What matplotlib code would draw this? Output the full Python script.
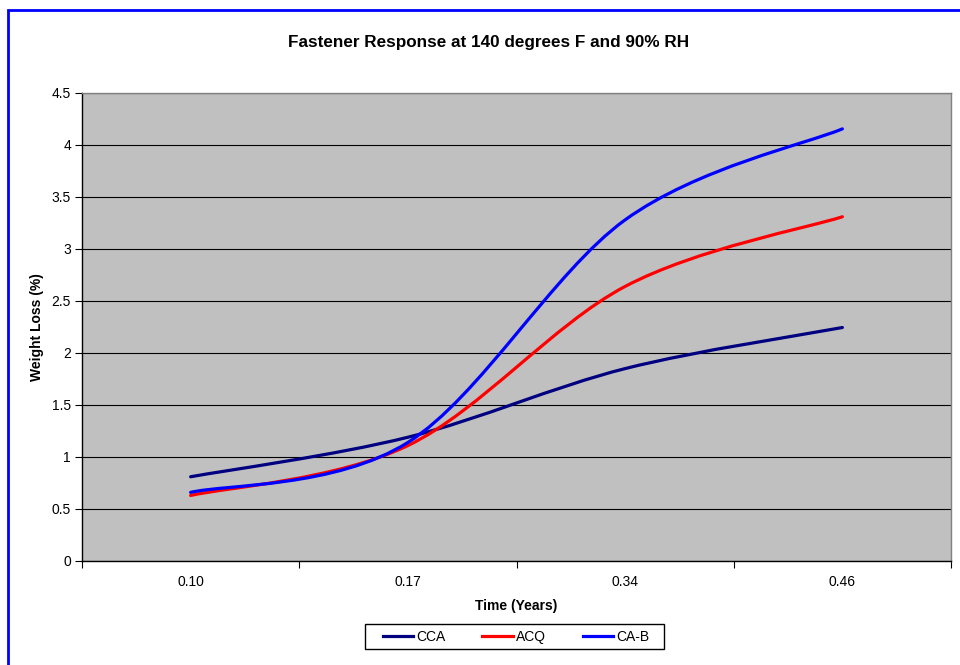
import matplotlib
matplotlib.use("Agg")
import matplotlib.pyplot as plt
from matplotlib.path import Path
from matplotlib.patches import PathPatch, Rectangle
from matplotlib.lines import Line2D
import numpy as np

plt.rcParams['font.family'] = ['Liberation Sans', 'DejaVu Sans']

categories = ["0.10", "0.17", "0.34", "0.46"]
cca = [0.81, 1.19, 1.85, 2.245]
acq = [0.63, 1.11, 2.64, 3.31]
cab = [0.66, 1.14, 3.28, 4.155]
series_names = ["CCA", "ACQ", "CA-B"]
series_colors = ["#000080", "#FF0000", "#0000FF"]
yticks = [0, 0.5, 1, 1.5, 2, 2.5, 3, 3.5, 4, 4.5]

W, H = 960, 665
fig = plt.figure(figsize=(W / 100, H / 100), dpi=100)
fig.patch.set_facecolor("white")

# chart border (blue)
fig.add_artist(Rectangle((7.5 / W, -0.2), 2.0, 1.2 - 9.5 / H, transform=fig.transFigure,
                         fill=False, edgecolor="#0000FF", linewidth=2.0, clip_on=False))

ax = fig.add_axes([82 / W, (H - 561) / H, 869 / W, 468 / H])
ax.set_facecolor("#C0C0C0")


def smooth_path(xs, ys):
    pts = np.column_stack([xs, ys]).astype(float)
    n = len(pts)
    verts = [pts[0]]
    codes = [Path.MOVETO]
    for i in range(n - 1):
        p0 = pts[max(i - 1, 0)]
        p1 = pts[i]
        p2 = pts[i + 1]
        p3 = pts[min(i + 2, n - 1)]
        c1 = p1 + (p2 - p0) / 6.0
        c2 = p2 - (p3 - p1) / 6.0
        verts += [c1, c2, p2]
        codes += [Path.CURVE4] * 3
    return Path(verts, codes)


xs = np.arange(len(categories))
for vals, name, col in zip([cca, acq, cab], series_names, series_colors):
    patch = PathPatch(smooth_path(xs, vals), fill=False, edgecolor=col, linewidth=2.3,
                      capstyle="round", joinstyle="round", zorder=3)
    ax.add_patch(patch)

ax.set_xlim(-0.5, len(categories) - 0.5)
ax.set_ylim(0, 4.5)
ax.set_yticks(yticks)
ax.set_yticklabels([("%g" % v) for v in yticks])
ax.yaxis.grid(True, color="#000000", linewidth=0.8)
ax.set_axisbelow(True)

ax.set_xticks(np.arange(-0.5, len(categories), 1.0))
ax.set_xticklabels([])
ax.set_xticks(xs, minor=True)
ax.set_xticklabels(categories, minor=True)
ax.tick_params(axis="x", which="minor", length=0, pad=10, labelsize=10)
ax.tick_params(axis="x", which="major", length=5, width=0.8, color="black", direction="out")
ax.tick_params(axis="y", length=5, width=0.8, color="black", direction="out", labelsize=10, pad=3)

for s in ["top", "right"]:
    ax.spines[s].set_color("#808080")
    ax.spines[s].set_linewidth(1.0)
for s in ["left", "bottom"]:
    ax.spines[s].set_color("#000000")
    ax.spines[s].set_linewidth(1.0)

fig.text(489 / W, 1 - 43 / H, "Fastener Response at 140 degrees F and 90% RH", ha="center", va="center",
         fontsize=12.3, fontweight="bold")
fig.text(516 / W, 1 - 606 / H, "Time (Years)", ha="center", va="center", fontsize=10, fontweight="bold")
fig.text(37 / W, 1 - 327 / H, "Weight Loss (%)", ha="center", va="center", rotation=90,
         fontsize=10, fontweight="bold")

# legend box
fig.add_artist(Rectangle((365 / W, 1 - 649 / H), 299 / W, 25 / H, transform=fig.transFigure,
                         facecolor="white", edgecolor="black", linewidth=1.0))
handles = [Line2D([0], [0], color=c, linewidth=2.3) for c in series_colors]
leg = fig.legend(handles, series_names, loc="center", bbox_to_anchor=(516 / W, 1 - 637 / H),
                 ncol=3, frameon=False, fontsize=10, handlelength=2.2,
                 handletextpad=0.2, columnspacing=2.66, borderpad=0.0)

fig.savefig("out.png", dpi=100)
